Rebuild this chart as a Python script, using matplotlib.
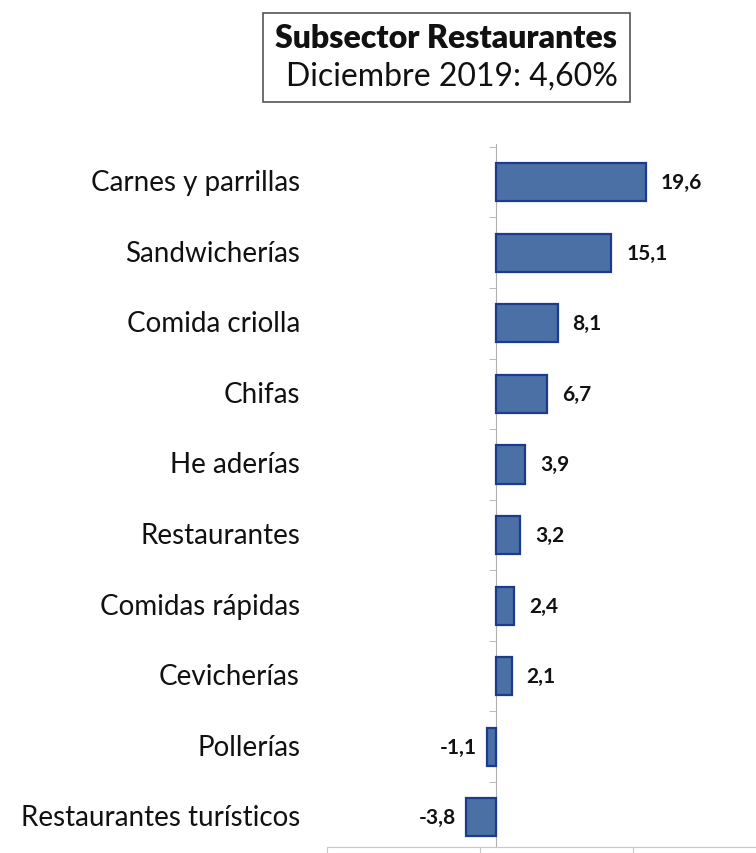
import matplotlib
matplotlib.use("Agg")
import matplotlib.pyplot as plt
from matplotlib.patches import Rectangle
import matplotlib.transforms as mtransforms

categories = [
    "Carnes y parrillas",
    "Sandwicherías",
    "Comida criolla",
    "Chifas",
    "He aderías",
    "Restaurantes",
    "Comidas rápidas",
    "Cevicherías",
    "Pollerías",
    "Restaurantes turísticos",
]
values = [19.6, 15.1, 8.1, 6.7, 3.9, 3.2, 2.4, 2.1, -1.1, -3.8]
title_line1 = "Subsector Restaurantes"
title_line2 = "Diciembre 2019: 4,60%"

plt.rcParams["font.family"] = ["Lato", "DejaVu Sans"]

W, H = 756, 854
fig = plt.figure(figsize=(W / 100, H / 100), dpi=100)
fig.patch.set_facecolor("white")

ax = fig.add_axes([327 / W, 1 - 848 / H, (756 - 327) / W, (848 - 145) / H])
ax.set_facecolor("none")

ypos = list(range(len(categories)))
ax.barh(ypos, values, height=0.54, color="#4a70a6", edgecolor="#1c3b8c",
        linewidth=1.6, zorder=3)

ax.set_xlim(-22, 34)
ax.set_ylim(len(categories) - 1 + 0.42, -0.54)

# Category axis sits at zero, light grey, with boundary ticks to the left
for s in ["top", "right"]:
    ax.spines[s].set_visible(False)
ax.spines["left"].set_position(("data", 0))
ax.spines["left"].set_color("#b0b0b0")
ax.spines["bottom"].set_color("#c8c8c8")
ax.set_yticks([])
ax.set_yticks([i + 0.5 for i in range(-1, len(categories) - 1)], minor=True)
ax.tick_params(axis="y", which="minor", direction="out", length=5,
               color="#b0b0b0", left=True)
ax.set_xticks([-22, -2, 18])
ax.set_xticklabels([])
ax.tick_params(axis="x", direction="out", length=6, color="#c8c8c8")

# Category names on the left
trans = mtransforms.blended_transform_factory(fig.transFigure, ax.transData)
for y, name in zip(ypos, categories):
    ax.text(300 / W, y, name, transform=trans, ha="right", va="center",
            fontsize=20, color="#111111")

# Value labels
for y, v in zip(ypos, values):
    label = f"{v:.1f}".replace(".", ",")
    if v >= 0:
        ax.annotate(label, (v, y), xytext=(15, 0), textcoords="offset pixels",
                    ha="left", va="center", fontsize=15, fontweight="bold",
                    color="#111111")
    else:
        ax.annotate(label, (v, y), xytext=(-10, 0), textcoords="offset pixels",
                    ha="right", va="center", fontsize=15, fontweight="bold",
                    color="#111111")

# Title box
box = Rectangle((263 / W, 1 - 103 / H), (630 - 263) / W, (103 - 14) / H,
                transform=fig.transFigure, facecolor="white",
                edgecolor="#555555", linewidth=1.2)
fig.patches.append(box)
fig.text(446 / W, 1 - 39 / H, title_line1, ha="center", va="center",
         fontsize=23, fontweight="heavy", color="#111111")
fig.text(452 / W, 1 - 77 / H, title_line2, ha="center", va="center",
         fontsize=23, color="#111111")

fig.savefig("out.png", dpi=100, facecolor="white")
